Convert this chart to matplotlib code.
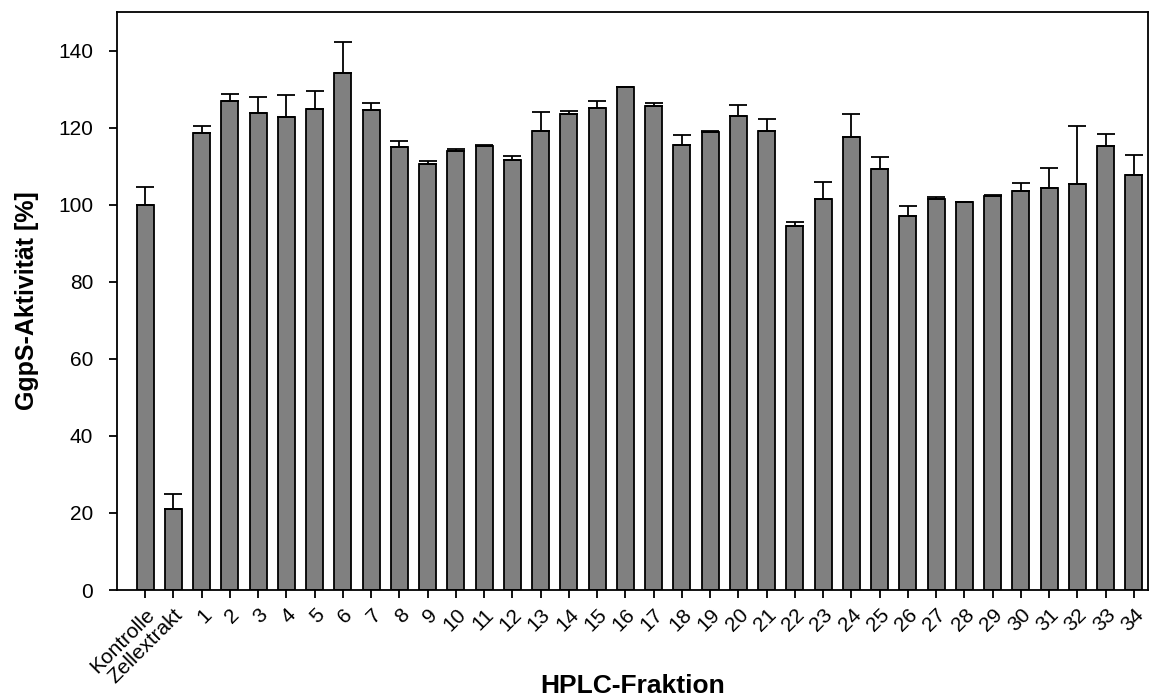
import numpy as np
import matplotlib
matplotlib.use("Agg")
import matplotlib.pyplot as plt

plt.rcParams['font.family'] = ['Liberation Sans', 'DejaVu Sans']

labels = ['Kontrolle', 'Zellextrakt'] + [str(i) for i in range(1, 35)]
aktivitaet = [100.0, 20.9,
              118.6, 127.0, 123.8, 122.7, 124.8, 134.2, 124.5, 115.0, 110.6, 113.8,
              115.3, 111.6, 119.1, 123.6, 125.0, 130.6, 125.6, 115.5, 118.8, 122.9,
              119.0, 94.5, 101.5, 117.5, 109.3, 97.0, 101.5, 100.8, 102.2, 103.5,
              104.3, 105.4, 115.1, 107.7]
fehler = [4.7, 4.1,
          1.7, 1.7, 4.2, 5.8, 4.6, 8.1, 1.8, 1.6, 0.8, 0.7,
          0.3, 1.1, 4.9, 0.6, 1.8, 0.0, 0.8, 2.5, 0.3, 2.9,
          3.2, 1.0, 4.5, 6.1, 3.1, 2.6, 0.5, 0.0, 0.4, 2.0,
          5.2, 14.9, 3.3, 5.2]

x = np.arange(len(labels))

fig = plt.figure(figsize=(11.57, 7.0), dpi=100)
ax = fig.add_axes([0.1011, 0.1571, 0.8911, 0.8258])

ax.bar(x, aktivitaet, width=0.6, color='#808080', edgecolor='black', linewidth=1.3, zorder=2)
ax.errorbar(x, aktivitaet, yerr=[np.zeros(len(x)), fehler], fmt='none', ecolor='black',
            elinewidth=1.3, capsize=6.5, capthick=1.3, zorder=3)

ax.set_xlim(-1, 35.5)
ax.set_ylim(0, 150)
ax.set_yticks(range(0, 141, 20))
ax.set_xticks(x)
ax.set_xticklabels(labels, rotation=45, ha='right', rotation_mode='anchor')

ax.tick_params(axis='both', direction='out', length=6, width=1.3, labelsize=15)
ax.tick_params(axis='y', pad=11)
ax.tick_params(axis='x', pad=5)
for s in ax.spines.values():
    s.set_linewidth(1.3)

ax.set_ylabel('GgpS-Aktivität [%]', fontsize=18, fontweight='bold')
ax.yaxis.set_label_coords(-0.076, 0.5)
ax.set_xlabel('HPLC-Fraktion', fontsize=19, fontweight='bold')
ax.xaxis.set_label_coords(0.5, -0.146)

fig.savefig('out.png', dpi=100)
